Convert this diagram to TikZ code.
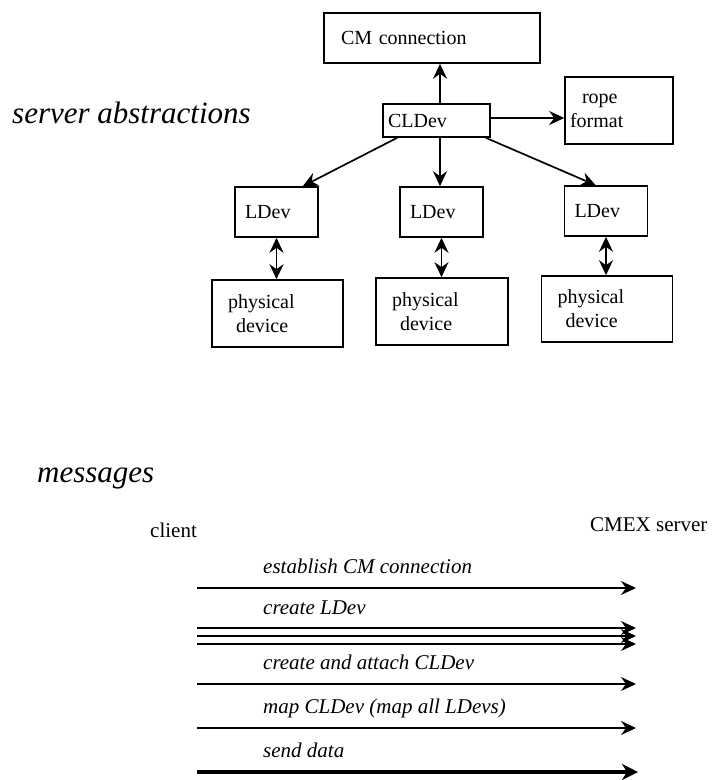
\documentclass[tikz,border=0pt]{standalone}
\usepackage{fontspec}
\setmainfont{Liberation Serif}
\usetikzlibrary{arrows.meta,calc}
\begin{document}
\begin{tikzpicture}[x=1pt,y=-1pt,
  box/.style={draw,line width=1.6pt,rectangle,inner ysep=0pt,align=left,
    font=\fontsize{20}{24}\selectfont},
  tip/.tip={Stealth[length=15pt,width=14pt,inset=5pt]},
  link/.style={line width=1.7pt,-tip},
  both/.style={line width=1.7pt,tip-tip},
  msg/.style={line width=1.7pt,-tip},
  bigmsg/.style={line width=3.8pt,-{Stealth[length=16pt,width=16pt,inset=5pt]}},
  heading/.style={anchor=base west,inner sep=0pt,
    font=\fontsize{31}{36}\selectfont\itshape},
  msglabel/.style={anchor=base west,inner sep=0pt,
    font=\fontsize{21}{24}\selectfont\itshape},
  party/.style={anchor=base west,inner sep=0pt,
    font=\fontsize{21}{24}\selectfont}]
\useasboundingbox (0,0) rectangle (715,780);

% ---------- server abstractions ----------
\node[heading] (srvtitle) at (12,123) {server abstractions};

\node[box,minimum width=216pt,minimum height=50pt,text width=182pt,inner xsep=17pt]
  (cm) at (432,38) {CM connection};
\node[box,minimum width=107pt,minimum height=33pt,text width=97pt,inner xsep=5pt]
  (cldev) at (436.5,120.5) {CLDev};
\node[box,minimum width=108pt,minimum height=67pt,text width=98pt,inner xsep=5pt]
  (rope) at (619,110.5) {\hspace*{12pt}rope\\format};

\node[box,minimum width=83pt,minimum height=50pt,text width=63pt,inner xsep=10pt]
  (ldev1) at (276.5,212) {LDev};
\node[box,minimum width=83pt,minimum height=50pt,text width=63pt,inner xsep=10pt]
  (ldev2) at (441.5,212) {LDev};
\node[box,minimum width=83pt,minimum height=50pt,text width=63pt,inner xsep=10pt]
  (ldev3) at (606,211) {LDev};

\node[box,minimum width=131pt,minimum height=67pt,text width=99pt,inner xsep=16pt]
  (phys1) at (277.5,313.5) {physical\\\hspace*{8pt}device};
\node[box,minimum width=132pt,minimum height=67pt,text width=100pt,inner xsep=16pt]
  (phys2) at (442,311.5) {physical\\\hspace*{8pt}device};
\node[box,minimum width=131pt,minimum height=66pt,text width=99pt,inner xsep=16pt]
  (phys3) at (607,309) {physical\\\hspace*{8pt}device};

\draw[link] ([xshift=3.5pt]cldev.north) -- ([xshift=3.5pt]cldev.north |- cm.south);
\draw[link] ([yshift=2.5pt]cldev.east) -- ([yshift=2.5pt]cldev.east -| rope.west);
\draw[link] ($(cldev.south west)+(15,0)$) -- ($(ldev1.north east)+(-16,0)$);
\draw[link] ([xshift=3.5pt]cldev.south) -- ([xshift=3.5pt]cldev.south |- ldev2.north);
\draw[link] ($(cldev.south east)+(-5,0)$) -- ($(ldev3.north west)+(32,0)$);

\draw[both] (ldev1.south) -- (ldev1.south |- phys1.north);
\draw[both] (ldev2.south) -- (ldev2.south |- phys2.north);
\draw[both] (ldev3.south) -- (ldev3.south |- phys3.north);

% ---------- messages ----------
\node[heading] (msgtitle) at (37,482) {messages};
\node[party] (client) at (150,537) {client};
\node[party] (server) at (590,531) {CMEX server};

\coordinate (a1) at (197,588);   \coordinate (b1) at (636,588);
\coordinate (a2) at (197,628);   \coordinate (b2) at (636,628);
\coordinate (a3) at (197,636);   \coordinate (b3) at (636,636);
\coordinate (a4) at (197,644);   \coordinate (b4) at (636,644);
\coordinate (a5) at (197,684);   \coordinate (b5) at (636,684);
\coordinate (a6) at (197,728);   \coordinate (b6) at (636,728);
\coordinate (a7) at (197,772);   \coordinate (b7) at (638,772);

\node[msglabel] (l1) at (263,573) {establish CM connection};
\draw[msg] (a1) -- (b1);

\node[msglabel] (l2) at (263,614) {create LDev};
\draw[msg] (a2) -- (b2);
\draw[msg] (a3) -- (b3);
\draw[msg] (a4) -- (b4);

\node[msglabel] (l3) at (263,669) {create and attach CLDev};
\draw[msg] (a5) -- (b5);

\node[msglabel] (l4) at (263,713) {map CLDev (map all LDevs)};
\draw[msg] (a6) -- (b6);

\node[msglabel] (l5) at (263,757) {send data};
\draw[bigmsg] (a7) -- (b7);
\end{tikzpicture}
\end{document}
